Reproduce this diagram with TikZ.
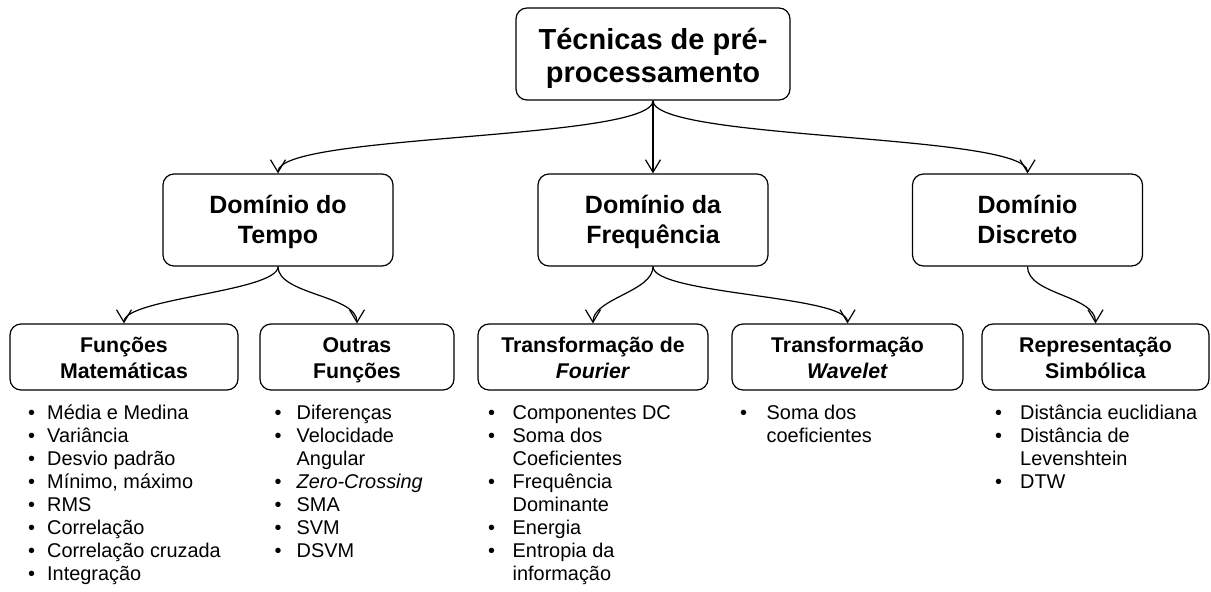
\documentclass[tikz,border=0pt]{standalone}
\usepackage{fontspec}
\setmainfont{Liberation Sans}
\usetikzlibrary{arrows.meta}
\newcommand{\tstr}[1]{\rule{0pt}{\dimexpr0.7\baselineskip+#1\relax}}
\newcommand{\bstr}{\rule[-0.3\baselineskip]{0pt}{0pt}}
\tikzset{
  box/.style={draw, line width=1.2pt, rounded corners=11pt, align=center, inner sep=0pt, font=\bfseries},
  topbox/.style={box, minimum width=274pt, minimum height=92pt, font=\bfseries\fontsize{29}{33}\selectfont},
  midbox/.style={box, minimum width=230pt, minimum height=92pt, font=\bfseries\fontsize{25}{30}\selectfont},
  lowbox/.style={box, minimum height=66pt, font=\bfseries\fontsize{21.3}{26}\selectfont},
  listnode/.style={anchor=base west, inner sep=0pt, font=\fontsize{19.9}{23}\selectfont},
  conn/.style={line width=1.2pt, -{Straight Barb[length=12.5pt,width=15pt,line width=1.2pt]}}
}
\newcommand{\blist}[2]{\begin{tabular}[t]{@{}p{#1}@{}l@{}}#2\end{tabular}}
\begin{document}
\begin{tikzpicture}[x=1pt,y=-1pt]
\useasboundingbox (0,0) rectangle (1211,592);
\node[topbox] (top) at (653,54) {\tstr{10pt}Técnicas de pré-\\processamento\bstr};
\node[midbox] (tempo) at (278,220) {\tstr{4pt}Domínio do\\Tempo\bstr};
\node[midbox] (freq) at (653,220) {\tstr{4pt}Domínio da\\Frequência\bstr};
\node[midbox] (disc) at (1027.5,220) {\tstr{4pt}Domínio\\Discreto\bstr};
\node[lowbox, minimum width=228pt] (fm) at (124,357) {\tstr{6pt}Funções\\Matemáticas\bstr};
\node[lowbox, minimum width=194pt] (of) at (357,357) {\tstr{6pt}Outras\\Funções\bstr};
\node[lowbox, minimum width=230pt] (tf) at (593,357) {\tstr{6pt}Transformação de\\\textit{Fourier}\bstr};
\node[lowbox, minimum width=231pt] (tw) at (847.5,357) {\tstr{6pt}Transformação\\\textit{Wavelet}\bstr};
\node[lowbox, minimum width=227pt] (rs) at (1095.5,357) {\tstr{6pt}Representação\\Simbólica\bstr};

\draw[conn] (top.south) .. controls +(0,40) and +(0,-40) .. (tempo.north);
\draw[conn] (top.south) -- (freq.north);
\draw[conn] (top.south) .. controls +(0,40) and +(0,-40) .. (disc.north);
\draw[conn] (tempo.south) .. controls +(0,25) and +(0,-25) .. (fm.north);
\draw[conn] (tempo.south) .. controls +(0,28) and +(0,-28) .. (of.north);
\draw[conn] (freq.south) .. controls +(0,25) and +(0,-25) .. (tf.north);
\draw[conn] (freq.south) .. controls +(0,28) and +(0,-28) .. (tw.north);
\draw[conn] (disc.south) .. controls +(0,28) and +(0,-28) .. (rs.north);

\node[listnode] (lfm) at (28,419) {\blist{19pt}{
• & Média e Medina\\
• & Variância\\
• & Desvio padrão\\
• & Mínimo, máximo\\
• & RMS\\
• & Correlação\\
• & Correlação cruzada\\
• & Integração}};
\node[listnode] (lof) at (274.5,419) {\blist{22pt}{
• & Diferenças\\
• & Velocidade\\
  & Angular\\
• & \textit{Zero-Crossing}\\
• & SMA\\
• & SVM\\
• & DSVM}};
\node[listnode] (ltf) at (488,419) {\blist{24.5pt}{
• & Componentes DC\\
• & Soma dos\\
  & Coeficientes\\
• & Frequência\\
  & Dominante\\
• & Energia\\
• & Entropia da\\
  & informação}};
\node[listnode] (ltw) at (740,419) {\blist{26.5pt}{
• & Soma dos\\
  & coeficientes}};
\node[listnode] (lrs) at (995,419) {\blist{25pt}{
• & Distância euclidiana\\
• & Distância de\\
  & Levenshtein\\
• & DTW}};
\end{tikzpicture}
\end{document}
